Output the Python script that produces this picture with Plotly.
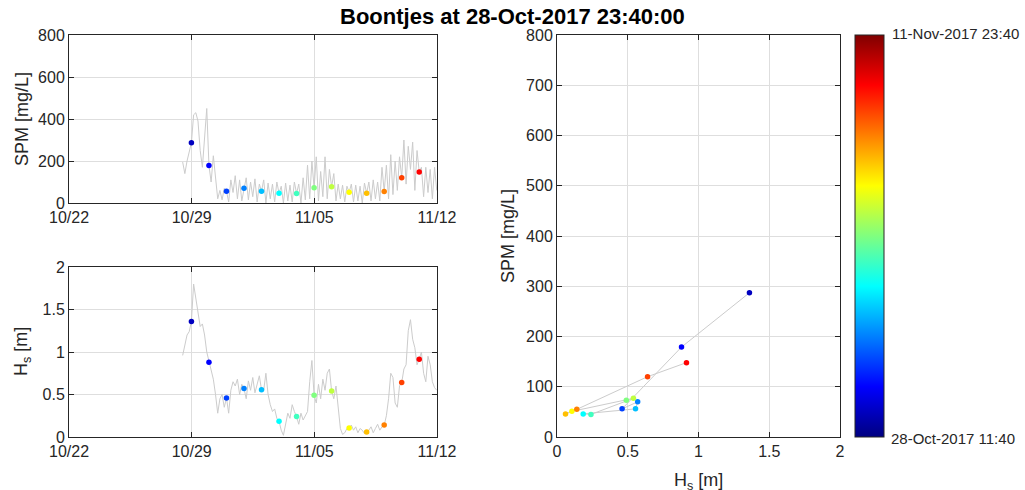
import pandas as pd
import plotly.graph_objects as go

W, H = 1025, 490

# ---------------- data ----------------
series_start = "2017-10-28 11:40"
series_step_hours = 3
spm_series = [195, 140, 200, 240, 287, 420, 430, 390,
              250, 170, 320, 450, 179, 100, 225, 120,
              20, 60, 15, 70, 56, 5, 110, 50,
              130, 20, 110, 10, 70, 120, 15, 100,
              30, 115, 5, 90, 56, 110, 0, 95,
              20, 90, 5, 100, 46, 80, 0, 95,
              10, 85, 5, 100, 45, 90, 0, 120,
              15, 180, 20, 200, 73, 220, 10, 150,
              30, 220, 20, 160, 77, 140, 10, 90,
              20, 85, 5, 80, 51, 90, 5, 85,
              10, 80, 0, 95, 46, 100, 10, 110,
              20, 100, 10, 170, 55, 180, 20, 230,
              40, 200, 60, 220, 120, 300, 90, 270,
              160, 290, 60, 250, 148, 170, 30, 170,
              50, 160, 20, 170, 60]
hs_series = [0.96, 1.10, 1.20, 1.24, 1.36, 1.80, 1.65, 1.45,
             1.30, 1.33, 1.20, 1.00, 0.88, 0.78, 0.68, 0.50,
             0.28, 0.45, 0.50, 0.35, 0.46, 0.28, 0.55, 0.65,
             0.60, 0.68, 0.50, 0.62, 0.57, 0.45, 0.66, 0.55,
             0.70, 0.52, 0.62, 0.72, 0.555, 0.55, 0.75, 0.50,
             0.38, 0.30, 0.33, 0.22, 0.185, 0.08, 0.02, 0.15,
             0.28, 0.22, 0.38, 0.30, 0.24, 0.15, 0.28, 0.20,
             0.25, 0.30, 0.65, 0.90, 0.49, 0.40, 0.62, 0.45,
             0.68, 0.55, 0.75, 0.80, 0.54, 0.45, 0.60, 0.30,
             0.10, 0.03, 0.05, 0.10, 0.105, 0.14, 0.08, 0.12,
             0.05, 0.10, 0.08, 0.04, 0.06, 0.08, 0.12, 0.05,
             0.10, 0.15, 0.08, 0.12, 0.14, 0.25, 0.45, 0.75,
             0.70, 0.40, 0.35, 0.60, 0.64, 0.80, 0.85, 1.25,
             1.38, 1.15, 1.05, 0.85, 0.915, 1.00, 0.75, 0.65,
             0.95, 0.85, 0.65, 0.58, 0.55]

dot_times = ["2017-10-28 23:40", "2017-10-29 23:40", "2017-10-30 23:40", "2017-10-31 23:40",
             "2017-11-01 23:40", "2017-11-02 23:40", "2017-11-03 23:40", "2017-11-04 23:40",
             "2017-11-05 23:40", "2017-11-06 23:40", "2017-11-07 23:40", "2017-11-08 23:40",
             "2017-11-09 23:40", "2017-11-10 23:40"]
dot_spm = [287, 179, 56, 70, 56, 46, 45, 73, 77, 51, 46, 55, 120, 148]
dot_hs = [1.36, 0.88, 0.46, 0.57, 0.555, 0.185, 0.24, 0.49, 0.54, 0.105, 0.06, 0.14, 0.64, 0.915]

# colour scaling of the dots
color_range = ["2017-10-27 23:40", "2017-11-12 23:40"]

date_ticks = ["2017-10-22", "2017-10-29", "2017-11-05", "2017-11-12"]
date_tick_labels = ["10/22", "10/29", "11/05", "11/12"]
cbar_labels = ["28-Oct-2017 11:40", "11-Nov-2017 23:40"]
title_text = "Boontjes at 28-Oct-2017 23:40:00"

# ---------------- derived ----------------
times = pd.date_range(series_start, periods=len(spm_series), freq=f"{series_step_hours}h")
c0 = pd.Timestamp(color_range[0])
c1 = pd.Timestamp(color_range[1])
dot_dt = pd.to_datetime(dot_times)
dot_c = [(t - c0).total_seconds() / 3600 for t in dot_dt]
cmax = (c1 - c0).total_seconds() / 3600

jet = [[0.0, "rgb(0,0,128)"], [0.125, "rgb(0,0,255)"], [0.375, "rgb(0,255,255)"],
       [0.625, "rgb(255,255,0)"], [0.875, "rgb(255,0,0)"], [1.0, "rgb(128,0,0)"]]

def px(x):
    return x / W

def py(y):
    return 1 - y / H

FONT = "Liberation Sans, Arial, Helvetica, sans-serif"
AX = "#262626"
GRID = "#dedede"
LINEGREY = "#cccccc"
TICK = 16
LAB = 18
MS = 5.5

fig = go.Figure()

fig.add_trace(go.Scatter(x=times, y=spm_series, mode="lines",
                         line=dict(color=LINEGREY, width=1), xaxis="x", yaxis="y",
                         hoverinfo="skip", showlegend=False))
fig.add_trace(go.Scatter(x=dot_dt, y=dot_spm, mode="markers",
                         marker=dict(size=MS, color=dot_c, colorscale=jet, cmin=0, cmax=cmax,
                                     showscale=False),
                         xaxis="x", yaxis="y", showlegend=False))
fig.add_trace(go.Scatter(x=times, y=hs_series, mode="lines",
                         line=dict(color=LINEGREY, width=1), xaxis="x2", yaxis="y2",
                         hoverinfo="skip", showlegend=False))
fig.add_trace(go.Scatter(x=dot_dt, y=dot_hs, mode="markers",
                         marker=dict(size=MS, color=dot_c, colorscale=jet, cmin=0, cmax=cmax,
                                     showscale=False),
                         xaxis="x2", yaxis="y2", showlegend=False))
fig.add_trace(go.Scatter(x=dot_hs, y=dot_spm, mode="lines",
                         line=dict(color=LINEGREY, width=1), xaxis="x3", yaxis="y3",
                         hoverinfo="skip", showlegend=False))
fig.add_trace(go.Scatter(x=dot_hs, y=dot_spm, mode="markers",
                         marker=dict(size=MS, color=dot_c, colorscale=jet, cmin=0, cmax=cmax,
                                     showscale=True,
                                     colorbar=dict(x=px(855), xanchor="left",
                                                   y=py(236), yanchor="middle",
                                                   len=402 / H, lenmode="fraction",
                                                   thickness=29, thicknessmode="pixels",
                                                   outlinecolor=AX, outlinewidth=1,
                                                   showticklabels=False, ticks="",
                                                   xpad=0, ypad=0)),
                         xaxis="x3", yaxis="y3", showlegend=False))

common = dict(showline=True, linecolor=AX, linewidth=1, mirror="ticks", ticks="inside",
              ticklen=5, tickcolor=AX, showgrid=True, gridcolor=GRID, gridwidth=1,
              zeroline=False, tickfont=dict(size=TICK, color=AX, family=FONT))

xdate = dict(common, type="date", range=[date_ticks[0], date_ticks[-1]],
             tickvals=date_ticks, ticktext=date_tick_labels)

fig.update_layout(
    width=W, height=H, margin=dict(l=0, r=0, t=0, b=0, autoexpand=False),
    paper_bgcolor="white", plot_bgcolor="white",
    font=dict(family=FONT, color=AX),
    xaxis=dict(xdate, domain=[px(69), px(437)], anchor="y"),
    yaxis=dict(common, domain=[py(203), py(35)], range=[0, 800],
               tickvals=[0, 200, 400, 600, 800], anchor="x"),
    xaxis2=dict(xdate, domain=[px(69), px(437)], anchor="y2"),
    yaxis2=dict(common, domain=[py(437), py(267)], range=[0, 2],
                tickvals=[0, 0.5, 1, 1.5, 2], ticktext=["0", "0.5", "1", "1.5", "2"], anchor="x2"),
    xaxis3=dict(common, domain=[px(557), px(840)], range=[0, 2],
                tickvals=[0, 0.5, 1, 1.5, 2], ticktext=["0", "0.5", "1", "1.5", "2"], anchor="y3"),
    yaxis3=dict(common, domain=[py(437), py(35)], range=[0, 800],
                tickvals=list(range(0, 801, 100)), anchor="x3"),
    showlegend=False,
)

ann = [
    dict(text="<b>" + title_text + "</b>", x=px(512), y=py(17), xref="paper", yref="paper",
         showarrow=False, font=dict(size=22, color="black", family=FONT),
         xanchor="center", yanchor="middle"),
    dict(text="SPM [mg/L]", x=px(22), y=py(119), xref="paper", yref="paper", textangle=-90,
         showarrow=False, font=dict(size=LAB, color=AX, family=FONT), xanchor="center", yanchor="middle"),
    dict(text="H<sub>s</sub> [m]", x=px(22), y=py(352), xref="paper", yref="paper", textangle=-90,
         showarrow=False, font=dict(size=LAB, color=AX, family=FONT), xanchor="center", yanchor="middle"),
    dict(text="SPM [mg/L]", x=px(508), y=py(236), xref="paper", yref="paper", textangle=-90,
         showarrow=False, font=dict(size=LAB, color=AX, family=FONT), xanchor="center", yanchor="middle"),
    dict(text="H<sub>s</sub> [m]", x=px(698), y=py(468), xref="paper", yref="paper",
         showarrow=False, font=dict(size=LAB, color=AX, family=FONT), xanchor="center", yanchor="top"),
    dict(text=cbar_labels[1], x=px(890), y=py(33), xref="paper", yref="paper",
         showarrow=False, font=dict(size=15, color=AX, family=FONT), xanchor="left", yanchor="middle"),
    dict(text=cbar_labels[0], x=px(889), y=py(438), xref="paper", yref="paper",
         showarrow=False, font=dict(size=15, color=AX, family=FONT), xanchor="left", yanchor="middle"),
]
fig.update_layout(annotations=ann)

fig.write_html("out.html")
